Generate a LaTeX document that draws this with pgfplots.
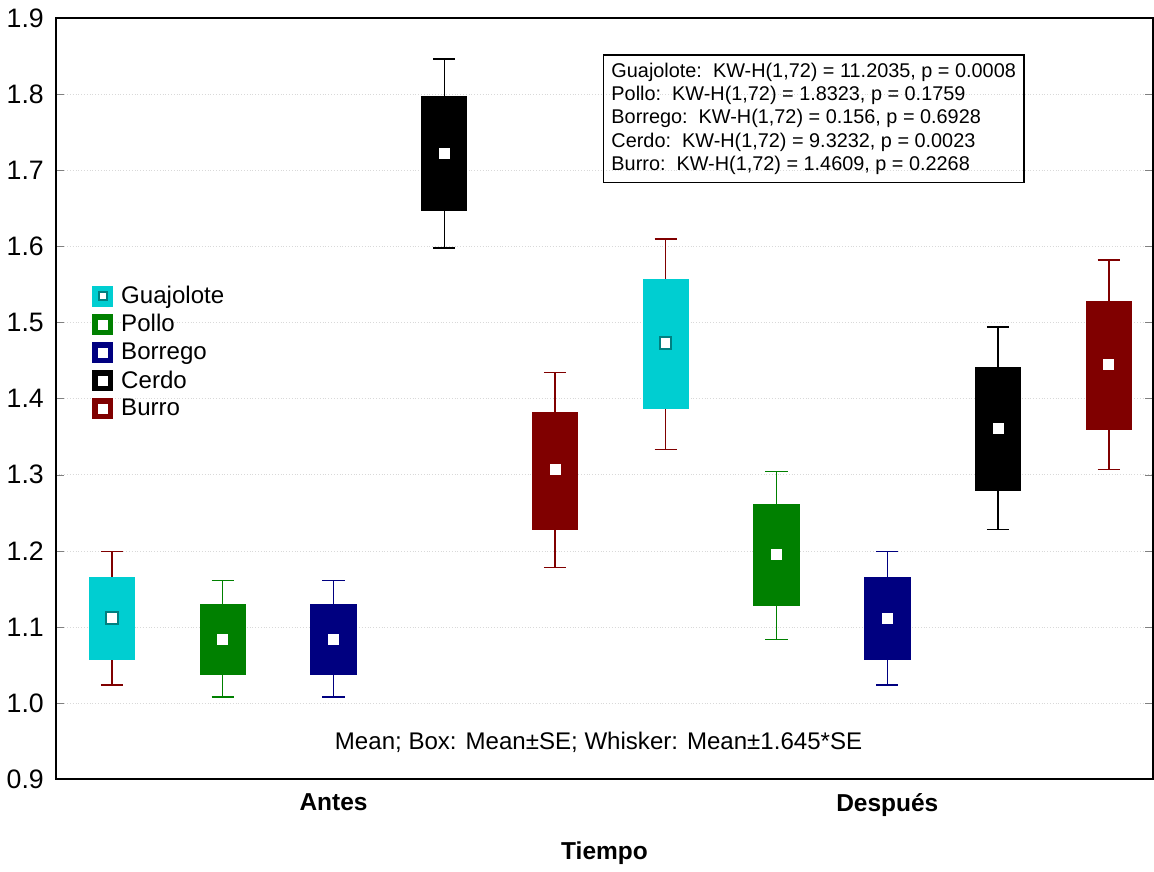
\documentclass[border=0pt]{standalone}
\usepackage{pgfplots}
\pgfplotsset{compat=1.18}
\usepgfplotslibrary{statistics}
\usepackage{fontspec}
\setmainfont{Liberation Sans}
\definecolor{cyanC}{RGB}{0,206,209}
\definecolor{tealC}{RGB}{0,128,128}
\definecolor{greenC}{RGB}{0,128,0}
\definecolor{navyC}{RGB}{0,0,128}
\definecolor{redC}{RGB}{128,0,0}
% one box: position, lower whisker, lower box, mean, upper box, upper whisker, fill, whisker colour
\newcommand{\meanbox}[8]{%
\addplot[forget plot, boxplot/draw direction=y, boxplot prepared={draw position=#1, lower whisker=#2, lower quartile=#3,
  median=#4, upper quartile=#5, upper whisker=#6, box extend=0.41, whisker extend=0.2},
  boxplot/every box/.style={fill=#7, draw=#7, line width=0.5pt},
  boxplot/every whisker/.style={draw=#8, line width=0.7pt},
  boxplot/every median/.style={draw=none}] coordinates {};}
\newcommand{\legsq}[1]{\addlegendimage{legend image code/.code={\fill[#1] (0pt,-5pt) rectangle (10pt,5pt); \fill[white] (2.8pt,-2.2pt) rectangle (7.2pt,2.2pt); \path (12pt,0);}}}
\begin{document}
\begin{tikzpicture}
\begin{axis}[width=547pt, height=379.5pt, scale only axis,
  xmin=0.493, xmax=10.40, ymin=0.9, ymax=1.9,
  ytick={0.9,1.0,...,1.9},
  yticklabel style={font=\fontsize{13.3}{15}\selectfont, xshift=-2.5pt, /pgf/number format/.cd,fixed,fixed zerofill,precision=1},
  /pgf/number format/assume math mode=true,
  xtick={3,8}, xticklabels={Antes,Después}, xticklabel style={font=\fontsize{12.2}{14}\selectfont\bfseries, yshift=-3.5pt},
  major x tick style={draw=none}, tick align=inside, major tick length=4pt,
  xlabel={Tiempo}, xlabel style={font=\fontsize{12.2}{14}\selectfont\bfseries, yshift=-6pt},
  ymajorgrids, grid style={densely dotted, gray!30},
  axis line style={line width=0.9pt},
  legend style={at={(rel axis cs:0.0274,0.659)}, anchor=north west, draw=none, fill=none,
    font=\fontsize{12}{14}\selectfont, row sep=0pt},
  legend cell align=left]
\addlegendimage{legend image code/.code={\fill[cyanC] (0pt,-5pt) rectangle (10pt,5pt); \filldraw[fill=white,draw=tealC,line width=0.8pt] (3pt,-2pt) rectangle (7pt,2pt); \path (12pt,0);}}
\addlegendentry{Guajolote}
\legsq{greenC}
\addlegendentry{Pollo}
\legsq{navyC}
\addlegendentry{Borrego}
\legsq{black}
\addlegendentry{Cerdo}
\legsq{redC}
\addlegendentry{Burro}
% Antes
\meanbox{1}{1.024}{1.058}{1.112}{1.165}{1.199}{cyanC}{redC}
\meanbox{2}{1.008}{1.038}{1.084}{1.130}{1.161}{greenC}{greenC}
\meanbox{3}{1.008}{1.038}{1.084}{1.130}{1.161}{navyC}{navyC}
\meanbox{4}{1.598}{1.647}{1.722}{1.797}{1.846}{black}{black}
\meanbox{5}{1.178}{1.228}{1.307}{1.382}{1.434}{redC}{redC}
% Despues
\meanbox{6}{1.333}{1.387}{1.473}{1.556}{1.610}{cyanC}{redC}
\meanbox{7}{1.084}{1.128}{1.195}{1.261}{1.304}{greenC}{greenC}
\meanbox{8}{1.024}{1.058}{1.111}{1.165}{1.199}{navyC}{navyC}
\meanbox{9}{1.228}{1.279}{1.361}{1.441}{1.494}{black}{black}
\meanbox{10}{1.307}{1.360}{1.445}{1.528}{1.582}{redC}{redC}
% means
\addplot[forget plot, only marks, mark=square*, mark size=2.5pt, mark options={fill=white, draw=white}]
  coordinates {(2,1.084) (3,1.084) (4,1.722) (5,1.307) (7,1.195) (8,1.111) (9,1.361) (10,1.445)};
\addplot[forget plot, only marks, mark=square*, mark size=2.8pt, mark options={fill=white, draw=tealC, line width=1pt}]
  coordinates {(1,1.112) (6,1.473)};
\node[draw, line width=0.8pt, anchor=north west, align=left, inner sep=4pt, font=\fontsize{9.9}{11.6}\selectfont]
  at (axis cs:5.43,1.8526) {Guajolote:\ \ KW-H(1,72) = 11.2035, p = 0.0008\\
  Pollo:\ \ KW-H(1,72) = 1.8323, p = 0.1759\\
  Borrego:\ \ KW-H(1,72) = 0.156, p = 0.6928\\
  Cerdo:\ \ KW-H(1,72) = 9.3232, p = 0.0023\\
  Burro:\ \ KW-H(1,72) = 1.4609, p = 0.2268};
\node[font=\fontsize{12}{14}\selectfont] at (axis cs:5.393,0.9487) {Mean; Box: Mean±SE; Whisker: Mean±1.645*SE};
\end{axis}
\path (current axis.north west) ++(0,9pt);
\end{tikzpicture}
\end{document}
